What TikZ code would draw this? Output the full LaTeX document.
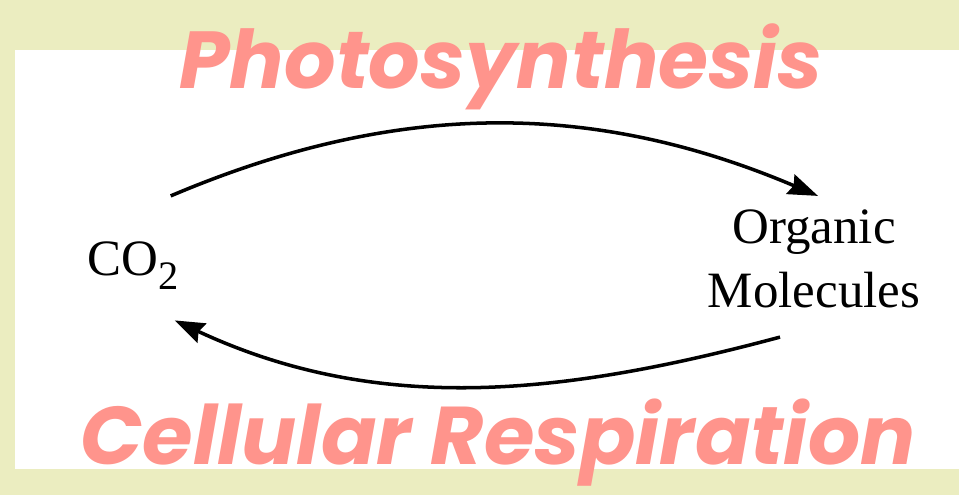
\documentclass[tikz,border=0pt]{standalone}
\usepackage{fontspec}
\usepackage{graphicx}
\usetikzlibrary{arrows.meta, positioning}
\setmainfont{Liberation Serif}
\newfontfamily\brushfont{Poppins}
\definecolor{paleolive}{RGB}{235,237,192}
\definecolor{salmon}{RGB}{255,148,140}

\begin{document}
\begin{tikzpicture}[>={Stealth[length=17pt, width=12pt, inset=2pt]}, x=0.02cm, y=0.02cm,
    label/.style={inner sep=0pt, font=\fontsize{29}{36}\selectfont},
    headline/.style={inner sep=0pt, text=salmon, font=\brushfont\bfseries\itshape},
    cycle/.style={->, line width=2pt}]

% background and card
\useasboundingbox (0, 0) rectangle (959, 495);
\fill[paleolive] (0, 0) rectangle (959, 495);
\fill[white] (15, 26) rectangle (959, 445);

% labels
\node[label, anchor=base west] (co2) at (87, 220) {CO\raisebox{-8pt}{\fontsize{23}{23}\selectfont 2}};
\node[label, align=center] (org) at (814, 236) {Organic\\Molecules};

% arrows
\draw[cycle] ([shift={(-8, 45)}]co2.north east) to[out=23, in=157, looseness=0.97] ([shift={(4, 14)}]org.north);
\draw[cycle] ([shift={(-34, -29)}]org.south) to[out=195, in=335, looseness=0.95] ([shift={(-4, -31)}]co2.south east);

% titles
\node[headline, anchor=base] (photo) at (501, 407) {\resizebox{12.86cm}{!}{Photosynthesis}};
\node[headline, anchor=base] (resp) at (498, 31) {\resizebox{16.7cm}{!}{Cellular Respiration}};

\end{tikzpicture}
\end{document}
